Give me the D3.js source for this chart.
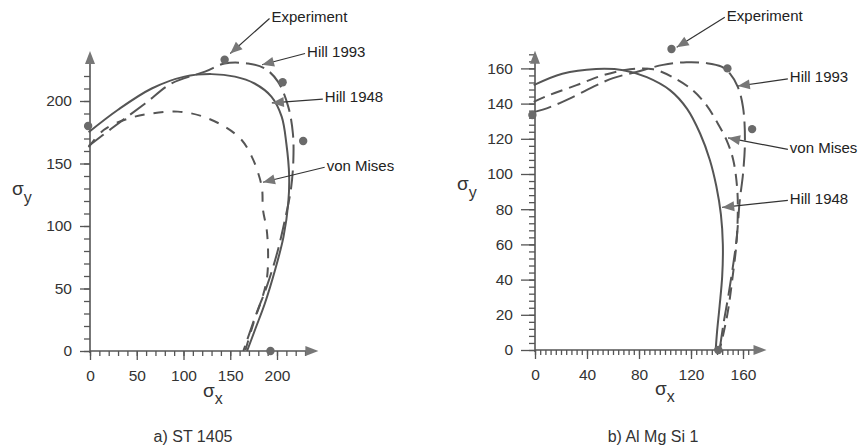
<!DOCTYPE html>
<html>
<head>
<meta charset="utf-8">
<script src="https://cdn.jsdelivr.net/npm/d3@7"></script>
<style>
  body { margin: 0; background: #fff; }
  svg { font-family: "Liberation Sans", Arial, sans-serif; }
</style>
</head>
<body>
<svg id="chart" width="862" height="447"></svg>
<script>
// ---- data: panel a) ST 1405 (sigma_x, sigma_y) ----
var hill48A = [[-1.5,175],[30,193],[66,210],[101,219.5],[130,221.5],[155,219.5],[176,214],[194,203.5],[205,187.5],[210,166],[213,140],[212,118],[207,91.5],[198,65],[187,38],[177,18],[168,0]];
var hill93A = [[-1.5,164],[23,178],[59,198],[87,214],[123,223.5],[144,230],[169,230],[187,226],[201,215.5],[212,195.5],[217,174],[217.5,153],[215,130],[208.5,105],[200,78],[189,51.5],[178,30],[164,0]];
var misesA  = [[-1.5,163],[15,177],[41,186],[66,190],[94,191.5],[119,188],[144,179.5],[162,169],[173,155.5],[180,142],[184,130],[185,113],[189,97],[190.5,75],[189,57],[184,42],[176,25],[166,0]];
var expA    = [[-2,180],[144,233],[206,215],[228,168],[193,0]];
var xTicksA = [0,50,100,150,200];
var yTicksA = [0,50,100,150,200];

// ---- data: panel b) Al Mg Si 1 ----
var hill48B = [[-1,150.5],[21,157],[47,159.7],[68,159],[86,155],[104,147.5],[117,137],[127,123],[134.5,108],[139.5,93],[143,77],[144.5,60],[144,42],[142,25],[140,10],[139,0]];
var hill93B = [[-1.5,135],[11.5,138],[27,143],[47.5,150.5],[60,154.5],[78,158],[98.5,162],[116.5,163.5],[132,163],[143.5,161],[150,157],[156,149.5],[160,138],[161.5,119],[160,100],[157.5,85],[155,62.5],[149,32],[145,15],[142,0]];
var misesB  = [[-1,141],[11.5,145],[32,150.5],[52,156],[73,159.5],[91,159.5],[106,155],[121.5,147.5],[132,139],[140,129.5],[147.5,119],[152.5,108],[155.5,92],[156,79],[155,61],[152,41.5],[148.5,22.5],[145,9.5],[142,0]];
var expB    = [[-2,133.5],[105,171],[148,160],[167,125.5],[141,0]];
var xTicksB = [0,40,80,120,160];
var yTicksB = [0,20,40,60,80,100,120,140,160];

// annotation labels: [text, label x, label y, arrow tip x, arrow tip y] in data units
var notesA = [["Experiment",192,266,150,238],["Hill 1993",230,238,184,229],["Hill 1948",249,201.5,194.5,198.5],["von Mises",251,147,185,135]];
var notesB = [["Experiment",146,189,109,172],["Hill 1993",194.5,154,156,150],["von Mises",194.5,114,148.5,120.5],["Hill 1948",194.5,85,144,81]];

var svg = d3.select("#chart");
var ink = "#555";

var panels = [
  {title: "a)  ST 1405", cx: 193, xd: [0,240], xr: [90,314.4], yd: [0,240], yr: [351,51],
   xMax: 230, yMax: 220, step: 10, xTicks: xTicksA, yTicks: yTicksA, yMajor: 10, labelGap: 18,
   curves: [[hill48A, null], [hill93A, "19,7"], [misesA, "10,9"]], exp: expA, notes: notesA,
   sx: [203, 397], sy: [12, 195]},
  {title: "b)  Al Mg Si 1", cx: 653, xd: [0,175], xr: [535,762.5], yd: [0,170], yr: [350,50.8],
   xMax: 164, yMax: 168, step: 4, xTicks: xTicksB, yTicks: yTicksB, yMajor: 14, labelGap: 22,
   curves: [[hill48B, null], [hill93B, "19,7"], [misesB, "12,7"]], exp: expB, notes: notesB,
   sx: [655, 395], sy: [457, 190]}
];

panels.forEach(function(p) {
  var x = d3.scaleLinear().domain(p.xd).range(p.xr);
  var y = d3.scaleLinear().domain(p.yd).range(p.yr);
  var g = svg.append("g");
  var x0 = x(0), y0 = y(0);

  // minor ticks
  var minorX = d3.range(0, p.xMax + 0.1, p.step);
  var minorY = d3.range(0, p.yMax + 0.1, p.step);
  g.append("g").attr("transform", "translate(0," + y0 + ")")
    .call(d3.axisBottom(x).tickValues(minorX).tickSize(5).tickFormat(""))
    .call(function(a) { a.select(".domain").remove(); a.selectAll("line").attr("stroke", ink).attr("stroke-width", 1.3); });
  g.append("g").attr("transform", "translate(" + x0 + ",0)")
    .call(d3.axisLeft(y).tickValues(minorY).tickSize(6).tickFormat(""))
    .call(function(a) { a.select(".domain").remove(); a.selectAll("line").attr("stroke", ink).attr("stroke-width", 1.3); });

  // major ticks + labels
  g.append("g").attr("transform", "translate(0," + y0 + ")")
    .call(d3.axisBottom(x).tickValues(p.xTicks).tickSize(9).tickPadding(10))
    .call(function(a) {
      a.select(".domain").remove();
      a.selectAll("line").attr("stroke", ink).attr("stroke-width", 1.3);
      a.selectAll("text").attr("fill", "#333").style("font-size", "15.5px");
    });
  g.append("g").attr("transform", "translate(" + x0 + ",0)")
    .call(d3.axisLeft(y).tickValues(p.yTicks).tickSize(p.yMajor).tickPadding(p.labelGap - p.yMajor))
    .call(function(a) {
      a.select(".domain").remove();
      a.selectAll("line").attr("stroke", ink).attr("stroke-width", 1.3);
      a.selectAll("text").attr("fill", "#333").style("font-size", "15.5px");
    });

  // axis lines with arrow heads
  var xEnd = p.xr[1] + 4, yEnd = p.yr[1];
  g.append("line").attr("x1", x0).attr("x2", xEnd - 10).attr("y1", y0).attr("y2", y0)
    .attr("stroke", ink).attr("stroke-width", 1.6);
  g.append("line").attr("x1", x0).attr("x2", x0).attr("y1", y0 + 2).attr("y2", yEnd + 10)
    .attr("stroke", ink).attr("stroke-width", 1.6);
  g.append("path").attr("d", "M" + xEnd + "," + y0 + "l-13,-5l0,10z").attr("fill", "#777");
  g.append("path").attr("d", "M" + x0 + "," + yEnd + "l-5,13l10,0z").attr("fill", "#777");

  // curves
  var line = d3.line().x(function(d) { return x(d[0]); }).y(function(d) { return y(d[1]); })
    .curve(d3.curveCatmullRom.alpha(0.5));
  p.curves.forEach(function(c) {
    g.append("path").attr("d", line(c[0])).attr("fill", "none")
      .attr("stroke", ink).attr("stroke-width", 2)
      .attr("stroke-dasharray", c[1]);
  });

  // experiment points
  g.selectAll(".pt").data(p.exp).enter().append("circle")
    .attr("cx", function(d) { return x(d[0]); })
    .attr("cy", function(d) { return y(d[1]); })
    .attr("r", 4.2).attr("fill", "#6a6a6a");

  // annotations
  p.notes.forEach(function(n) {
    var lx = x(n[1]), ly = y(n[2]), tx = x(n[3]), ty = y(n[4]);
    var ang = Math.atan2(ty - ly, tx - lx) * 180 / Math.PI;
    g.append("line").attr("x1", lx).attr("y1", ly).attr("x2", tx).attr("y2", ty)
      .attr("stroke", "#333").attr("stroke-width", 1.2);
    g.append("path").attr("d", "M0,0l-12,-5l0,10z").attr("fill", "#777")
      .attr("transform", "translate(" + tx + "," + ty + ") rotate(" + ang + ")");
    g.append("text").attr("x", lx + 2).attr("y", ly - 2).attr("dy", "0.35em")
      .attr("fill", "#222").style("font-size", "15px").text(n[0]);
  });

  // axis symbols
  var sxT = g.append("text").attr("x", p.sx[0]).attr("y", p.sx[1]).attr("fill", "#333").style("font-size", "19px");
  sxT.append("tspan").text("σ");
  sxT.append("tspan").attr("dy", 7).style("font-size", "16px").text("x");
  var syT = g.append("text").attr("x", p.sy[0]).attr("y", p.sy[1]).attr("fill", "#333").style("font-size", "19px");
  syT.append("tspan").text("σ");
  syT.append("tspan").attr("dy", 8).style("font-size", "16px").text("y");

  g.append("text").attr("x", p.cx).attr("y", 442).attr("text-anchor", "middle")
    .attr("fill", "#333").style("font-size", "16px").text(p.title);
});
</script>
</body>
</html>
